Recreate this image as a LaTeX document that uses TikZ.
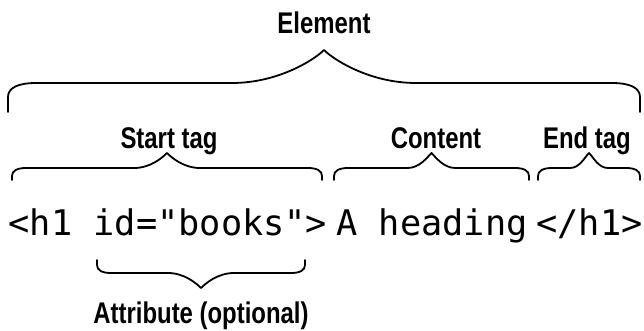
\documentclass[tikz,border=0pt]{standalone}
\usepackage{fontspec}
\newfontfamily\labelfont{Liberation Sans Bold}[FakeStretch=0.8]
\newfontfamily\codefont{DejaVu Sans Mono}[Ligatures=TeXOff]
\tikzset{
  bracestyle/.style={draw=black, line width=1.8bp, line cap=round, line join=round},
  lbl/.style={inner sep=0pt, anchor=base, font=\labelfont\fontsize{30}{34}\selectfont},
  codetext/.style={inner sep=0pt, anchor=base, font=\codefont\fontsize{35.4}{40}\selectfont},
}
% #1 L, #2 R, #3 end y, #4 flat y, #5 tip y, #6 corner width, #7 corner height (signed), #8 tip half-width
\newcommand{\mybrace}[8]{%
  \pgfmathsetmacro\bM{(#1+#2)/2}%
  \pgfmathsetmacro\bLc{#1+#6}%
  \pgfmathsetmacro\bRc{#2-#6}%
  \pgfmathsetmacro\bFh{#4+#7}%
  \pgfmathsetmacro\bLa{#1+0.35*#6}%
  \pgfmathsetmacro\bRa{#2-0.35*#6}%
  \pgfmathsetmacro\bFa{#4+0.35*#7}%
  \pgfmathsetmacro\bMl{\bM-#8}%
  \pgfmathsetmacro\bMr{\bM+#8}%
  \pgfmathsetmacro\bMla{\bM-0.5*#8}%
  \pgfmathsetmacro\bMra{\bM+0.5*#8}%
  \pgfmathsetmacro\bD{0.3*(#4-#5)}%
  \pgfmathsetmacro\bDx{abs(\bD)}%
  \pgfmathsetmacro\bTl{\bM-\bDx}%
  \pgfmathsetmacro\bTr{\bM+\bDx}%
  \pgfmathsetmacro\bTy{#5+\bD}%
  \draw[bracestyle] (#1,#3) -- (#1,\bFh) .. controls (#1,\bFa) and (\bLa,#4) .. (\bLc,#4)
    -- (\bMl,#4) .. controls (\bMla,#4) and (\bTl,\bTy) .. (\bM,#5)
    .. controls (\bTr,\bTy) and (\bMra,#4) .. (\bMr,#4)
    -- (\bRc,#4) .. controls (\bRa,#4) and (#2,\bFa) .. (#2,\bFh) -- (#2,#3);%
}
\begin{document}
\begin{tikzpicture}[x=1bp, y=-1bp]
  \useasboundingbox (0,0) rectangle (644,330);
  % labels
  \node[lbl] (element) at (324,33) {Element};
  \node[lbl] (starttag) at (169,148) {Start tag};
  \node[lbl] (content) at (436,148) {Content};
  \node[lbl] (endtag) at (587,148) {End tag};
  \node[lbl] (attr) at (201,323) {Attribute (optional)};
  % code
  \node[codetext] (stag) at (168,235) {<h1 id="books">};
  \node[codetext] (cont) at (432,235) {A heading};
  \node[codetext] (etag) at (589.5,235) {</h1>};
  % braces
  \mybrace{8}{640}{112}{83}{50}{28}{14}{92}
  \mybrace{12}{322}{180}{168}{153}{14}{8}{33}
  \mybrace{334}{529}{180}{168}{153}{14}{8}{24}
  \mybrace{538}{640}{180}{168}{153}{14}{8}{19}
  \mybrace{97}{305}{260}{273}{288}{14}{-8}{33}
\end{tikzpicture}
\end{document}
